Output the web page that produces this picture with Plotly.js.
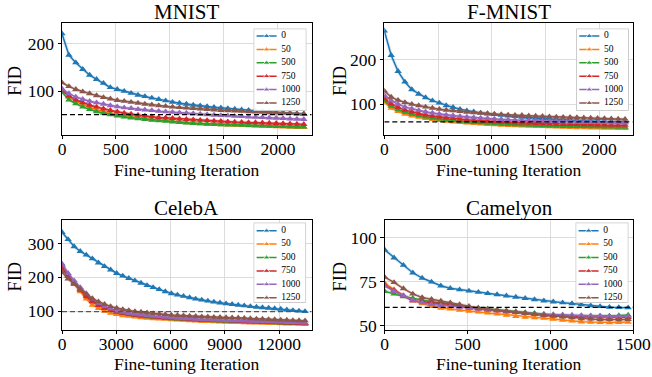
<!DOCTYPE html>
<html><head><meta charset="utf-8">
<script src="https://cdn.plot.ly/plotly-3.0.1.min.js"></script>
<style>html,body{margin:0;padding:0;background:#fff;overflow:hidden;}#chart{width:652px;height:377px;}</style>
</head><body><div id="chart"></div>
<script>
// ---------------- data ----------------
const seriesNames = ['0','50','500','750','1000','1250'];
const panelTitles = ['MNIST','F-MNIST','CelebA','Camelyon'];
const xAxisTitle = 'Fine-tuning Iteration';
const yAxisTitle = 'FID';

const mnistIter = [0,64,128,192,256,320,384,448,512,576,640,704,768,832,896,960,1024,1088,1152,1216,1280,1344,1408,1472,1536,1600,1664,1728,1792,1856,1920,1984,2048,2112,2176,2240];
const mnist0    = [221,176,160,146,134,125,117,108,104,100,96,92,89,86,83,80,77,75,73,71,69.5,68,66.5,65,63.5,62.5,61,60,59,58,57,56,55,54,53,52];
const mnist50   = [104,88,79,72,66,61,57,54,51,48.5,46,44,42,40.5,39,38,36.5,35,34,33,32,31,30.5,30,29,28.5,28,27.5,27,26.5,26,25.5,25,24.5,24,24];
const mnist500  = [98,82,74,67,62,57,54,51,48,46,44,42.5,41,39.5,38,37,35.5,34.5,33.5,32.5,32,31,30.5,30,29.5,29,28.5,28,27.5,27,26.5,26,26,25.5,25,25];
const mnist750  = [103,90,82,76,71,67,63,60,57,54,52,50,48,46.5,45,44,43,42,41,40,39,38.5,37.5,37,36,35.5,35,34.5,34,33.5,33,32.5,32,31.5,31,30.5];
const mnist1000 = [105,95,88,83,79,76,73,70,67.5,65.5,64,62,61,59.5,58,57,56,55,54,53,52,51,50,49,48.5,47.5,47,46,45.5,45,44,43.5,43,42,41.5,41];
const mnist1250 = [118,110,104,99,95,91,87,84,81,79,77,75,73,71.5,70,68.5,67,66,65,64,63,62,61,60,59,58.5,58,57,56.5,56,55,54.5,54,53.5,53,52.5];
const mnistRef  = [51];

const fmnistIter = [0,64,128,192,256,320,384,448,512,576,640,704,768,832,896,960,1024,1088,1152,1216,1280,1344,1408,1472,1536,1600,1664,1728,1792,1856,1920,1984,2048,2112,2176,2240];
const fmnist0    = [265,210,174,150,133,123,115,108,103,97,93,89,85.5,83,80.5,78.5,77,75.5,74,72.5,71,70,69,68,67,66,65,64.5,64,63,62.5,62,61.5,61,60.5,60];
const fmnist50   = [105,91,84,78,74,71,68,66,64,62,60.5,59,58,57,56,55,54,53,52.5,52,51.5,51,50.5,50,49.5,49,48.5,48,47.5,47.5,47,47,46.5,46.5,46,46];
const fmnist500  = [108,96,88,82,78,74.5,71.5,69,67,65,63.5,62,60.5,59.5,58.5,57.5,56.5,55.5,55,54,53.5,53,52.5,52,51.5,51,50.5,50.5,50,50,49.5,49.5,49,49,48.5,48.5];
const fmnist750  = [113,101,93,87,83,79,76,73.5,71.5,69.5,68,66.5,65,64,63,62,61,60,59,58.5,58,57.5,57,56.5,56,55.5,55,54.5,54.5,54,54,53.5,53.5,53,53,53];
const fmnist1000 = [120,108,100,94,90,86,83,80.5,78,76,74.5,73,71.5,70,69,68,67,66,65,64.5,64,63.5,63,62.5,62,61.5,61,60.5,60,59.5,59.5,59,59,58.5,58.5,58];
const fmnist1250 = [130,116,109,104,100,97,94,91.5,89,87,85.5,84,82.5,81,80,79,78,77,76,75.5,75,74,73.5,73,72,71.5,71,70.5,70,69.5,69,68.5,68,67.5,67,66.5];
const fmnistRef  = [60.5];

const celebaIter = [0,336,672,1008,1344,1680,2016,2352,2688,3024,3360,3696,4032,4368,4704,5040,5376,5712,6048,6384,6720,7056,7392,7728,8064,8400,8736,9072,9408,9744,10080,10416,10752,11088,11424,11760,12096,12432,12768,13104,13440];
const celeba0    = [333,312,291,277,266,255,243,232,222,212,204,197,190,183,176,170,164,158,152,148,144,140,136,133,130,127,124.5,122,120,118,116,114,112,110.5,109,107.5,106,104,102,100.5,99];
const celeba50   = [232,205,180,158,136,118,108,100,94,90,87,85,83,81,79.5,78,77,76,75,74,73,72,71,70,69.5,69,68,67.5,67,66.5,66,65.5,65,64.5,64,63.5,63,62.5,62,61.5,61];
const celeba500  = [236,208,186,166,147,131,118,109,102,97,93,90,87.5,85.5,83.5,82,80.5,79,78,77,76,75,74,73,72.5,72,71,70.5,70,69.5,68.5,68,67.5,67,66.5,66,65,64.5,64,63.5,63];
const celeba750  = [228,203,182,162,143,128,117,109,103,98,94,91,88.5,86.5,84.5,83,81.5,80,79,78,77,76,75,74,73.5,73,72,71.5,71,70.5,69.5,69,68.5,68,67.5,67,66,65.5,65,64,63.5];
const celeba1000 = [240,212,190,170,152,136,124,114,107,101,97,93.5,91,89,87,85,83.5,82,80.5,79.5,78.5,77.5,76.5,75.5,75,74,73,72.5,72,71.5,71,70.5,70,69.5,69,68.5,68,67,66.5,66,65.5];
const celeba1250 = [215,195,180,165,150,137,128,120,114,109,105,102,99,97,95,93,91.5,90,88.5,87.5,86.5,85.5,84.5,83.5,83,82,81.5,81,80.5,80,79,78,77,76.5,75.5,75,74,73.5,72.5,72,71.5];
const celebaRef  = [98.5];

const camIter = [0,56.5,113,169.5,226,282.5,339,395.5,452,508.5,565,621.5,678,734.5,791,847.5,904,960.5,1017,1073.5,1130,1186.5,1243,1299.5,1356,1412.5,1469];
const cam0    = [93,88.5,84.3,80,77,74.8,72.6,71.2,70.4,69.7,69,68.3,67.6,66.9,66.2,65.5,64.8,64.1,63.5,63,62.5,61.9,61.3,60.9,60.5,60.3,60.2];
const cam50   = [74,70.5,67,64.5,62.5,61,60,59.5,58.8,58.3,57.8,57.2,56.7,56,55.3,54.8,54.5,54.2,53.7,53.2,52.7,52.2,52,51.8,51.7,51.8,52];
const cam500  = [69.5,68,66.5,65.5,64.5,63.5,63,62.5,61.5,60.5,60,59.5,59,58.5,58,57.5,57,56.5,56,56,55.5,55.5,55.5,55.5,55.5,55.7,56];
const cam750  = [73,70,67,64,63.5,63,62.5,62,61,60,59.5,59,58.5,58,57.5,57,56.5,56,55.5,55.5,55,55,55,54.8,54.8,54.7,54.7];
const cam1000 = [72.5,69.5,67,64.5,63,62,61.5,61,60.5,60,59.5,59,58.5,58,57.5,57,56.8,56.5,56.3,56.1,56,55.8,55.6,55.4,55.3,55.3,55.3];
const cam1250 = [77.5,74.5,71,68,66,65,64,63,62,61,60,59.5,58.8,58.2,57.5,57,56.5,56,55.5,55,54.5,54,53.8,53.5,53.5,53.4,53.5];
const camRef  = [60.4];

const mnistXTicks  = [0,500,1000,1500,2000];
const mnistYTicks  = [100,200];
const fmnistXTicks = [0,500,1000,1500,2000];
const fmnistYTicks = [100,200];
const celebaXTicks = [0,3000,6000,9000,12000];
const celebaYTicks = [100,200,300];
const camXTicks    = [0,500,1000,1500];
const camYTicks    = [50,75,100];

// ---------------- styling / layout ----------------
const COLORS = ['#1f77b4','#ff7f0e','#2ca02c','#d62728','#9467bd','#8c564b'];
const FONT = 'Liberation Serif, Times New Roman, serif';
const W = 652, H = 377;

const panels = [
  {iter: mnistIter,  ys: [mnist0,mnist50,mnist500,mnist750,mnist1000,mnist1250], ref: mnistRef, xr:[0,2313], yr:[9,243.5], xt: mnistXTicks, yt: mnistYTicks,
   box:[62,23,311.7,134.5], leg:[253.3,28.3,306.7,111], row0:7.7, refColor:'#000'},
  {iter: fmnistIter, ys: [fmnist0,fmnist50,fmnist500,fmnist750,fmnist1000,fmnist1250], ref: fmnistRef, xr:[0,2311], yr:[32,282.5], xt: fmnistXTicks, yt: fmnistYTicks,
   box:[384.3,23,632.7,134.5], leg:[576,28.3,629,111], row0:7.7, refColor:'#000'},
  {iter: celebaIter, ys: [celeba0,celeba50,celeba500,celeba750,celeba1000,celeba1250], ref: celebaRef, xr:[0,13807], yr:[45,371], xt: celebaXTicks, yt: celebaYTicks,
   box:[62,219.5,311.7,329.7], leg:[253.3,222.3,306.2,303], row0:8.4, refColor:'#555'},
  {iter: camIter,    ys: [cam0,cam50,cam500,cam750,cam1000,cam1250], ref: camRef, xr:[0,1500], yr:[47.7,110.2], xt: camXTicks, yt: camYTicks,
   box:[384.7,219.5,633.3,329.7], leg:[575.3,222.3,628.7,303], row0:8.4, refColor:'#000'}
];

function hexA(hex, a){
  const n = parseInt(hex.slice(1),16);
  return 'rgba('+((n>>16)&255)+','+((n>>8)&255)+','+(n&255)+','+a+')';
}

const traces = [];
const layout = {
  width: W, height: H,
  margin: {l:0, r:0, t:0, b:0},
  paper_bgcolor: '#fff', plot_bgcolor: 'rgba(0,0,0,0)',
  font: {family: FONT, color: '#000', size: 17},
  showlegend: false,
  annotations: []
};

panels.forEach((p, i) => {
  const k = i + 1, kl = i + 5;
  const [l, t, r, b] = p.box;
  const axCommon = {
    showline: true, mirror: true, linecolor: '#000', linewidth: 1,
    ticks: 'outside', ticklen: 3.5, tickwidth: 1, tickcolor: '#000',
    showgrid: true, gridcolor: '#dcdcdc', gridwidth: 1, zeroline: false,
    tickfont: {family: FONT, size: 17.5, color: '#000'}, fixedrange: true, automargin: false
  };
  layout['xaxis'+k] = Object.assign({}, axCommon, {
    domain: [l/W, r/W], anchor: 'y'+k, range: p.xr,
    tickmode: 'array', tickvals: p.xt, ticktext: p.xt.map(String),
    ticklabelstandoff: -5
  });
  layout['yaxis'+k] = Object.assign({}, axCommon, {
    domain: [1-b/H, 1-t/H], anchor: 'x'+k, range: p.yr,
    tickmode: 'array', tickvals: p.yt, ticktext: p.yt.map(String)
  });

  // data lines
  p.ys.forEach((vals, s) => {
    traces.push({
      type: 'scatter', mode: 'lines', x: p.iter, y: vals,
      xaxis: 'x'+k, yaxis: 'y'+k, hoverinfo: 'skip',
      line: {color: hexA(COLORS[s], 0.15), width: 3.5}
    });
    traces.push({
      type: 'scatter', mode: 'lines+markers', name: seriesNames[s], x: p.iter, y: vals,
      xaxis: 'x'+k, yaxis: 'y'+k,
      line: {color: COLORS[s], width: 1.5},
      marker: {symbol: 'triangle-up', size: 6.5, color: COLORS[s]}
    });
  });
  // dashed reference line
  traces.push({
    type: 'scatter', mode: 'lines', x: [p.xr[0], p.xr[1]], y: [p.ref[0], p.ref[0]],
    xaxis: 'x'+k, yaxis: 'y'+k, hoverinfo: 'skip',
    line: {color: p.refColor, width: 1.3, dash: '5px,3px'}
  });

  // legend (drawn inside a hidden axis laid out in pixel units)
  const [ll, lt, lr, lb] = p.leg;
  const lw = lr - ll, lh = lb - lt;
  layout['xaxis'+kl] = {domain: [ll/W, lr/W], anchor: 'y'+kl, range: [0, lw], visible: false, fixedrange: true};
  layout['yaxis'+kl] = {domain: [1-lb/H, 1-lt/H], anchor: 'x'+kl, range: [lh, 0], visible: false, fixedrange: true};
  traces.push({
    type: 'scatter', mode: 'lines', x: [0.5, lw-0.5, lw-0.5, 0.5, 0.5], y: [0.5, 0.5, lh-0.5, lh-0.5, 0.5],
    fill: 'toself', fillcolor: 'rgba(255,255,255,0.9)', line: {color: '#cccccc', width: 1},
    xaxis: 'x'+kl, yaxis: 'y'+kl, hoverinfo: 'skip', cliponaxis: false
  });
  seriesNames.forEach((nm, s) => {
    const ry = p.row0 + s*13.4;
    traces.push({
      type: 'scatter', mode: 'lines+markers', x: [3.3, 13.3, 23.3], y: [ry, ry, ry],
      xaxis: 'x'+kl, yaxis: 'y'+kl, hoverinfo: 'skip',
      line: {color: COLORS[s], width: 1.5},
      marker: {symbol: 'triangle-up', size: [0, 6, 0], color: COLORS[s]}
    });
    traces.push({
      type: 'scatter', mode: 'text', x: [28], y: [ry], text: [nm], textposition: 'middle right',
      xaxis: 'x'+kl, yaxis: 'y'+kl, hoverinfo: 'skip',
      textfont: {family: FONT, size: 9.5, color: '#000'}
    });
  });

  // titles
  const cx = (l + r) / 2;
  const titleY = (i < 2) ? 11.8 : 208.2;
  layout.annotations.push({
    text: panelTitles[i], xref: 'paper', yref: 'paper', x: cx/W, y: 1-titleY/H,
    xanchor: 'center', yanchor: 'middle', showarrow: false,
    font: {family: FONT, size: 21, color: '#000'}
  });
  const xtY = (i < 2) ? 169.5 : 364;
  layout.annotations.push({
    text: xAxisTitle, xref: 'paper', yref: 'paper', x: cx/W, y: 1-xtY/H,
    xanchor: 'center', yanchor: 'middle', showarrow: false,
    font: {family: FONT, size: 17.5, color: '#000'}
  });
  const ytX = (i % 2 === 0) ? 15 : 340;
  layout.annotations.push({
    text: yAxisTitle, xref: 'paper', yref: 'paper', x: ytX/W, y: 1-((t+b)/2+2)/H,
    xanchor: 'center', yanchor: 'middle', showarrow: false, textangle: -90,
    font: {family: FONT, size: 18.5, color: '#000'}
  });
});

Plotly.newPlot('chart', traces, layout, {displayModeBar: false, staticPlot: true});
</script>
</body></html>
